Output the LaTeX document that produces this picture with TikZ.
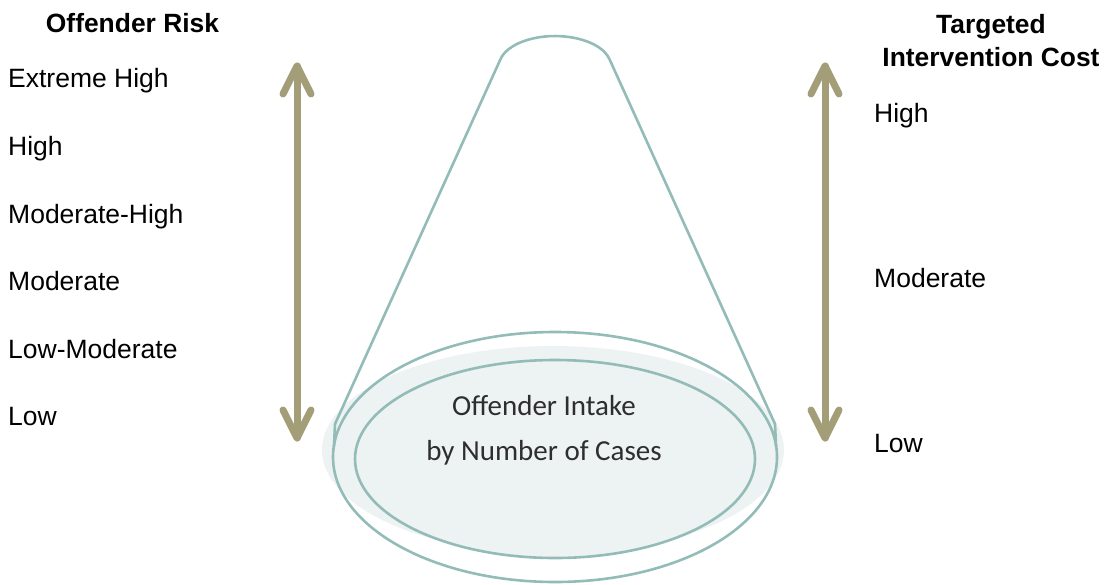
\documentclass[tikz,border=0pt]{standalone}
\usepackage{fontspec}
\setmainfont{Liberation Sans}
\newfontfamily\calib{Carlito}
\definecolor{conecol}{HTML}{93BCB9}
\definecolor{shadecol}{HTML}{EDF2F2}
\definecolor{arrcol}{HTML}{A39E78}
\definecolor{txtcol}{HTML}{2E2E2E}
\begin{document}
\begin{tikzpicture}[x=1pt,y=-1pt,
  lbl/.style={anchor=base west,inner sep=0pt,font=\fontsize{26.5}{30}\selectfont},
  hdr/.style={anchor=base,inner sep=0pt,font=\fontsize{26.4}{33}\selectfont\bfseries,align=center},
  ctext/.style={anchor=base,inner sep=0pt,text=txtcol,font=\calib\fontsize{29}{34}\selectfont},
  conel/.style={draw=conecol,line width=2.6pt},
  bigarr/.style={draw=arrcol,line width=7pt,line cap=round,line join=round}]
\useasboundingbox (0,0) rectangle (1107,584);
% soft shade
\fill[shadecol] (553,450) ellipse [x radius=231, y radius=104];
% outer ellipse
\draw[conel] (555,457) ellipse [x radius=222, y radius=125];
% inner ellipse
\draw[conel,fill=shadecol] (555,459) ellipse [x radius=200, y radius=99];
% cone
\draw[conel,line join=round] (334,446) -- (335,424) -- (500.2,59.8)
  arc[start angle=192,end angle=348,x radius=56,y radius=30]
  -- (775,424) -- (776,446);
% centre text
\node[ctext] (t1) at (544,415) {Offender Intake};
\node[ctext] (t2) at (544,460) {by Number of Cases};
% headers
\node[hdr] (hl) at (132.5,32) {Offender Risk};
\node[hdr] (hr1) at (991,33) {Targeted};
\node[hdr] (hr2) at (991,66) {Intervention Cost};
% left labels
\node[lbl] (l1) at (8,87) {Extreme High};
\node[lbl] (l2) at (8,155) {High};
\node[lbl] (l3) at (8,223) {Moderate-High};
\node[lbl] (l4) at (8,290) {Moderate};
\node[lbl] (l5) at (8,358) {Low-Moderate};
\node[lbl] (l6) at (8,425) {Low};
% right labels
\node[lbl] (r1) at (874,122) {High};
\node[lbl] (r2) at (874,287) {Moderate};
\node[lbl] (r3) at (874,452) {Low};
% arrows
\coordinate (la1) at (297,66);
\coordinate (la2) at (297,438);
\coordinate (ra1) at (825,66);
\coordinate (ra2) at (825,438);
\foreach \a/\b in {la1/la2,ra1/ra2}{
  \draw[bigarr] (\a) -- (\b);
  \draw[bigarr] ([xshift=-14pt,yshift=-28pt]\a) -- (\a) -- ([xshift=14pt,yshift=-28pt]\a);
  \draw[bigarr] ([xshift=-14pt,yshift=28pt]\b) -- (\b) -- ([xshift=14pt,yshift=28pt]\b);
}
\end{tikzpicture}
\end{document}
